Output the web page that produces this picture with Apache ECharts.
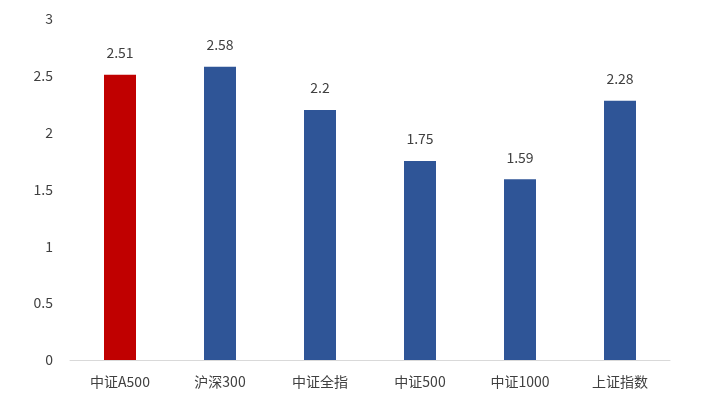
<!DOCTYPE html>
<html><head><meta charset="utf-8">
<script src="https://cdn.jsdelivr.net/npm/echarts@6/dist/echarts.min.js"></script>
<style>html,body{margin:0;padding:0;background:#fff}#c{width:703px;height:415px}</style>
</head><body><div id="c"></div>
<script>
const categories = ['中证A500','沪深300','中证全指','中证500','中证1000','上证指数'];
const values = [2.51, 2.58, 2.2, 1.75, 1.59, 2.28];
const barColors = ['#C00000','#2F5597','#2F5597','#2F5597','#2F5597','#2F5597'];
const yTicks = {min: 0, max: 3, interval: 0.5};
const font = '"Microsoft YaHei","Noto Sans CJK SC","Noto Sans",sans-serif';
const chart = echarts.init(document.getElementById('c'));
chart.setOption({
  animation: false,
  grid: {left: 70, right: 33, top: 19, bottom: 55},
  xAxis: {
    type: 'category', data: categories,
    axisLine: {lineStyle: {color: '#D9D9D9', width: 1}},
    axisTick: {show: false},
    axisLabel: {color: '#404040', fontSize: 14, margin: 15, fontFamily: font}
  },
  yAxis: {
    type: 'value', min: yTicks.min, max: yTicks.max, interval: yTicks.interval,
    splitLine: {show: false},
    axisLine: {show: false}, axisTick: {show: false},
    axisLabel: {color: '#404040', fontSize: 14, margin: 17, fontFamily: font}
  },
  series: [{
    type: 'bar', barWidth: 32,
    data: values.map((v, i) => ({value: v, itemStyle: {color: barColors[i]}})),
    label: {show: true, position: 'top', distance: 15, color: '#404040', fontSize: 14, fontFamily: font}
  }]
});
</script></body></html>
